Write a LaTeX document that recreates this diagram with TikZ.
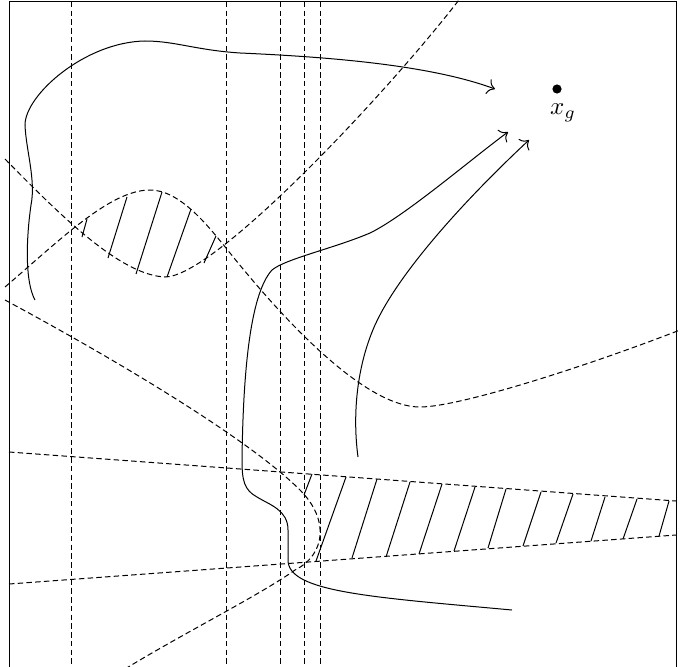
\documentclass[tikz,border=0pt]{standalone}
\usepackage{amsmath,amssymb}
\usepackage{tikz}
\usetikzlibrary{arrows.meta}
\tikzset{
  guia/.style={dash pattern=on 2.2pt off 1.3pt},
  tray/.style={-{To[scale=1.2]}},
  pt/.style={circle,fill=black,inner sep=1.3pt}
}

\begin{document}
\begin{tikzpicture}[x=0.4pt,y=-0.4pt]
\useasboundingbox (0,0) rectangle (684,666);
\clip (0,0) rectangle (684,666);
\draw (9,2) rectangle (676,700);
% rectas verticales
\foreach \xv in {71,226,280,304,320}{
  \draw[guia] (\xv,2)--(\xv,670);}
% lente
\draw[guia] (5,159) .. controls (60,215) and (120,275) .. (165,277)
  .. controls (215,277) and (390,90) .. (462,-4);
\draw[guia] (5,287) .. controls (60,240) and (110,190) .. (150,190)
  .. controls (180,190) and (208,226) .. (226,248)
  .. controls (296,336) and (370,407) .. (420,407)
  .. controls (460,407) and (590,365) .. (680,330);
\foreach \xa/\ya/\xb/\yb in {82/237/87/219, 108/258/127/197, 136/274/162/192,
  167/277/191/209, 204/263/216/236}{
  \draw (\xa,\ya)--(\xb,\yb);}
% banda
\draw[guia] (9,452)--(676,501);
\draw[guia] (9,584)--(676,535);
\draw[guia] (5,300) .. controls (120,362) and (250,440) .. (300,490)
  .. controls (330,520) and (325,555) .. (295,570)
  .. controls (260,595) and (180,635) .. (120,672);
\foreach \xa/\ya/\xb/\yb in {304/495/312/474, 316/561/346/477, 352/558/377/479,
  386/557/410/482, 419/554/442/484, 454/551/475/487, 488/548/506/489,
  523/546/541/492, 556/543/573/494, 591/541/605/497, 623/539/637/499,
  659/536/669/501}{
  \draw (\xa,\ya)--(\xb,\yb);}
% trayectorias
\draw[tray] (35,300) .. controls (25,282) and (26,240) .. (31,205)
  .. controls (36,180) and (26,150) .. (25,125)
  .. controls (25,95) and (85,42) .. (145,41)
  .. controls (175,41) and (195,50) .. (240,53)
  .. controls (330,57) and (430,65) .. (495,89);
\draw[tray] (512,610) .. controls (370,597) and (288,592) .. (288,560)
  -- (288,530) .. controls (288,510) and (270,505) .. (257,497)
  .. controls (244,490) and (242,480) .. (242,460)
  .. controls (243,380) and (249,295) .. (272,270)
  .. controls (285,259) and (335,248) .. (370,233)
  .. controls (405,216) and (470,160) .. (508,132);
\draw[tray] (358,457) .. controls (353,420) and (355,370) .. (375,325)
  .. controls (400,270) and (470,195) .. (529,140);
% objetivo
\node[pt] (xg) at (557,89) {};
\node (xglab) at (563,113) {$x_g$};
\end{tikzpicture}
\end{document}
